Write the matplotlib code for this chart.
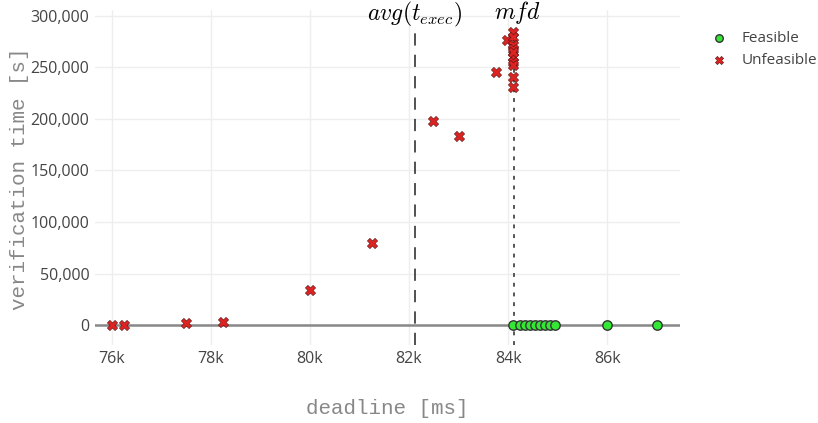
import matplotlib
matplotlib.use("Agg")
import matplotlib.pyplot as plt
import matplotlib.transforms as mtransforms
from matplotlib.ticker import FuncFormatter

plt.rcParams['mathtext.fontset'] = 'cm'

# Data (deadline in ms, verification time in s)
unfeasible_x = [76000, 76250, 77500, 78250, 80000, 81250, 82480, 83000, 83760, 83980,
                84100, 84100, 84100, 84100, 84100, 84100, 84100, 84100, 84100, 84100]
unfeasible_y = [500, 500, 1500, 3000, 34000, 79500, 198000, 183500, 245500, 276500,
                284000, 279500, 272000, 268000, 260000, 255500, 252500, 241000, 231000, 265000]
feasible_x = [84100, 84250, 84350, 84450, 84550, 84650, 84750, 84850, 84950, 86000, 87000]
feasible_y = [0, 0, 0, 0, 0, 0, 0, 0, 0, 0, 0]
avg_texec = 82120
mfd = 84120
x_ticks = [76000, 78000, 80000, 82000, 84000, 86000]
y_ticks = [0, 50000, 100000, 150000, 200000, 250000, 300000]

W, H = 818, 423
fig = plt.figure(figsize=(W/100, H/100), dpi=100)
ax = fig.add_axes([95/W, 1-345/H, 585/W, 335/H])

ax.set_xlim(75660, 87470)
ax.set_ylim(-19400, 305800)

ax.set_xticks(x_ticks)
ax.set_yticks(y_ticks)
ax.xaxis.set_major_formatter(FuncFormatter(lambda v, p: f"{int(v/1000)}k"))
ax.yaxis.set_major_formatter(FuncFormatter(lambda v, p: f"{int(v):,}"))
ax.grid(True, color='#eeeeee', linewidth=1)
ax.set_axisbelow(True)
for s in ax.spines.values():
    s.set_visible(False)
ax.tick_params(length=0, labelsize=11.5, labelcolor='#444444', pad=4)
for lab in ax.get_xticklabels() + ax.get_yticklabels():
    lab.set_fontfamily('Open Sans')

ax.axhline(0, color='#888888', linewidth=1.8, zorder=1)

ax.axvline(avg_texec, ymin=0.0, ymax=0.95, color='#222222', linestyle=(0, (8, 6)), linewidth=1.1, zorder=2)
ax.axvline(mfd, ymin=0.0, ymax=0.95, color='#555555', linestyle=(0, (2, 3)), linewidth=1.4, zorder=2)

ax.scatter(feasible_x, feasible_y, marker='o', s=46, color='#33e833', edgecolor='#333333',
           linewidth=1.0, zorder=4, label='Feasible')
ax.scatter(unfeasible_x, unfeasible_y, marker='X', s=55, color='#dd2222', edgecolor='#551111',
           linewidth=0.4, zorder=5, label='Unfeasible')

blend = mtransforms.blended_transform_factory(ax.transData, fig.transFigure)
ax.text(avg_texec, 1-14/H, r'$avg(t_{exec})$', transform=blend,
        ha='center', va='center', fontsize=17, color='black')
ax.text(mfd + 60, 1-13/H, r'$mfd$', transform=blend,
        ha='center', va='center', fontsize=17, color='black')

fig.text(387/W, 1-408/H, 'deadline [ms]', family='Liberation Mono', fontsize=15,
         color='#888888', ha='center', va='center')
fig.text(20/W, 1-179/H, 'verification time [s]', family='Liberation Mono', fontsize=15,
         color='#888888', ha='center', va='center', rotation=90)

leg = ax.legend(loc='upper left', bbox_to_anchor=(690/W, 1-17/H), bbox_transform=fig.transFigure,
                frameon=False, prop={'family': 'Open Sans', 'size': 11}, handletextpad=0.5,
                labelspacing=0.45, markerscale=0.8)
for t in leg.get_texts():
    t.set_color('#444444')

fig.savefig('out.png', dpi=100)
